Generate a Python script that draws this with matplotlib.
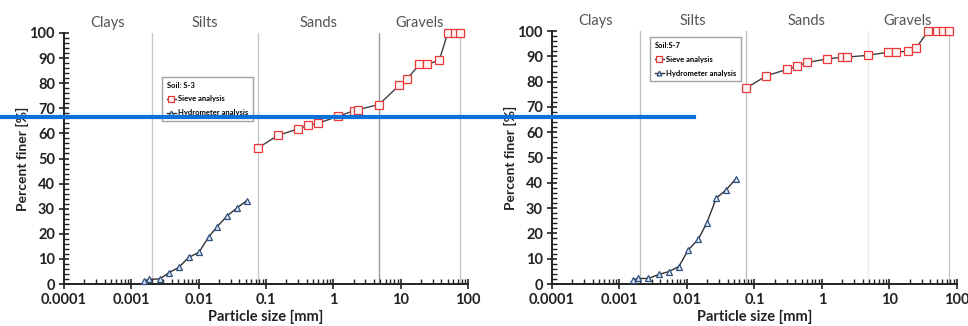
import matplotlib
matplotlib.use("Agg")
import matplotlib.pyplot as plt
from matplotlib.lines import Line2D
from matplotlib.ticker import LogLocator, MultipleLocator, FixedLocator, FixedFormatter

plt.rcParams['font.family'] = ['Lato', 'DejaVu Sans']

# ---- data ----
sieve_sizes = [0.075, 0.15, 0.3, 0.425, 0.6, 1.18, 2.0, 2.36, 4.75, 9.5, 12.5, 19, 25, 37.5, 50, 63, 75]
s3_sieve = [54.1, 59.2, 61.8, 63.2, 64.1, 66.8, 69.0, 69.5, 71.5, 79.1, 81.8, 87.5, 87.5, 89.2, 100, 100, 100]
s7_sieve = [77.4, 82.3, 84.8, 86.1, 87.6, 88.9, 89.7, 89.7, 90.4, 91.6, 91.6, 92.1, 93.4, 100, 100, 100, 100]

s3_hydro_d = [0.00154, 0.00185, 0.00264, 0.00362, 0.00505, 0.0071, 0.0101, 0.0141, 0.0189, 0.0264, 0.0371, 0.0516]
s3_hydro_p = [1.3, 1.9, 2.0, 4.5, 6.6, 10.6, 12.6, 18.8, 22.9, 27.1, 30.3, 33.2]
s7_hydro_d = [0.0016, 0.00189, 0.00269, 0.00383, 0.00538, 0.00757, 0.0105, 0.0148, 0.0196, 0.0273, 0.0384, 0.0533]
s7_hydro_p = [1.6, 2.2, 2.2, 3.8, 4.9, 6.9, 13.5, 17.8, 24.1, 34.0, 37.3, 41.7]

boundaries = [0.002, 0.075, 4.75, 75]
zone_names = ["Clays", "Silts", "Sands", "Gravels"]
zone_centers = [0.000447, 0.0122, 0.597, 18.9]
xticks = [0.0001, 0.001, 0.01, 0.1, 1, 10, 100]
xtick_labels = ["0.0001", "0.001", "0.01", "0.1", "1", "10", "100"]

panels = [
    dict(soil="Soil: S-3", sieve=s3_sieve, hd=s3_hydro_d, hp=s3_hydro_p,
         rect=[0.0661, 0.1288, 0.4174, 0.770],
         bcolors=["#c8c8c8", "#c8c8c8", "#9a9a9a", "#c8c8c8"],
         leg_anchor=(0.233, 0.84)),
    dict(soil="Soil:S-7", sieve=s7_sieve, hd=s7_hydro_d, hp=s7_hydro_p,
         rect=[0.5702, 0.1288, 0.4184, 0.776],
         bcolors=["#c0c0c0", "#c0c0c0", "#ececec", "#c8c8c8"],
         leg_anchor=(0.233, 0.99)),
]

fig = plt.figure(figsize=(9.68, 3.26), dpi=100)

for p in panels:
    ax = fig.add_axes(p["rect"])
    ax.set_xscale("log")
    ax.set_xlim(1e-4, 100)
    ax.set_ylim(0, 100)
    for b, c in zip(boundaries, p["bcolors"]):
        ax.plot([b, b], [0, 100], color=c, lw=1.0, zorder=1)
    for name, xc in zip(zone_names, zone_centers):
        ax.text(xc, 1.012, name, transform=ax.get_xaxis_transform(), ha="center", va="bottom",
                fontsize=10.5, color="#555555")
    ax.plot(sieve_sizes, p["sieve"], color="#404040", lw=1.0, marker="s", ms=5.5,
            mfc="#fff4f4", mec="#e8383a", mew=0.9, label="Sieve analysis", zorder=3, clip_on=False)
    ax.plot(p["hd"], p["hp"], color="#303030", lw=1.0, marker="^", ms=5,
            mfc="#dfe7f2", mec="#2f4f7f", mew=0.9, label="Hydrometer analysis", zorder=3, clip_on=False)
    for s in ("top", "right"):
        ax.spines[s].set_visible(False)
    for s in ("left", "bottom"):
        ax.spines[s].set_color("#222222")
        ax.spines[s].set_linewidth(1.4)
    ax.xaxis.set_major_locator(FixedLocator(xticks))
    ax.xaxis.set_major_formatter(FixedFormatter(xtick_labels))
    ax.xaxis.set_minor_locator(LogLocator(base=10, subs=range(2, 10), numticks=20))
    ax.yaxis.set_major_locator(MultipleLocator(10))
    ax.yaxis.set_minor_locator(MultipleLocator(2))
    ax.tick_params(which="major", direction="inout", length=7, width=1.2, color="#222222",
                   labelsize=10.5, pad=3)
    ax.tick_params(which="minor", direction="in", length=3.5, width=1.0, color="#222222")
    ax.xaxis.set_minor_formatter(plt.NullFormatter())
    for lab in ax.get_xticklabels() + ax.get_yticklabels():
        lab.set_fontweight("bold")
        lab.set_color("#222222")
    ax.set_xlabel("Particle size [mm]", fontsize=10.5, fontweight="bold", color="#222222", labelpad=2)
    ax.set_ylabel("Percent finer [%]", fontsize=10, fontweight="bold", color="#222222", labelpad=0)
    leg = ax.legend(loc="upper left", bbox_to_anchor=p["leg_anchor"], title=p["soil"],
                    title_fontproperties={"size": 5.5, "weight": "bold"},
                    prop={"size": 5.5, "weight": "bold"},
                    frameon=True, fancybox=False, edgecolor="#a0a0a0", framealpha=1,
                    handlelength=1.2, handletextpad=0.3, borderpad=0.6, labelspacing=0.9,
                    markerscale=0.7)
    leg._legend_box.align = "left"
    leg.get_frame().set_linewidth(1.0)

# blue horizontal overlay line
fig.add_artist(Line2D([0, 694 / 968], [1 - 117 / 326, 1 - 117 / 326], color="#0a72d6",
                      lw=3.0, transform=fig.transFigure, zorder=10))

fig.savefig("out.png", dpi=100, facecolor="white")
